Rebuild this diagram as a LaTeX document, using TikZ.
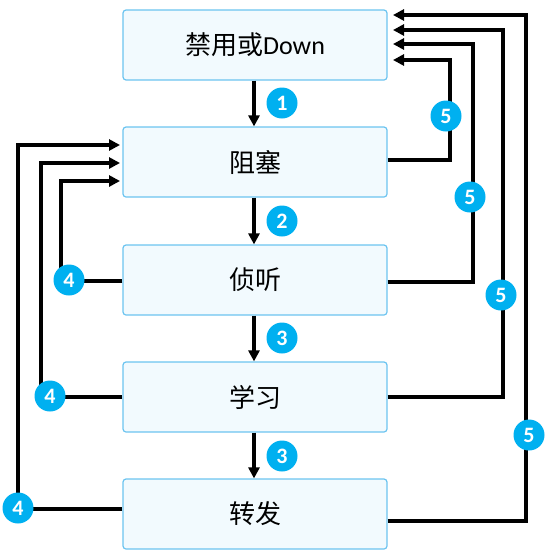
\documentclass[tikz,border=0pt]{standalone}
\usepackage{fontspec}
\setmainfont{Carlito}
\newfontfamily\cjk{Noto Sans CJK SC}
\usetikzlibrary{arrows.meta}
\definecolor{boxfill}{HTML}{F2FAFE}
\definecolor{boxdraw}{HTML}{6CC4F0}
\definecolor{badge}{HTML}{00B0F0}
\tikzset{
  box/.style={draw=boxdraw, fill=boxfill, line width=1.2pt, rounded corners=3pt,
    minimum width=264pt, minimum height=70pt, inner sep=0pt,
    font=\fontsize{26}{28}\selectfont},
  conn/.style={line width=3.6pt, -{Triangle[length=11pt,width=11pt]}},
  badgenode/.style={circle, fill=badge, minimum size=31pt, inner sep=0pt,
    text=white, font=\fontsize{22}{22}\selectfont\bfseries}
}
\begin{document}
\begin{tikzpicture}[x=1pt,y=-1pt]
\useasboundingbox (0,0) rectangle (552,552);
\node[box] (b1) at (255,45) {{\cjk 禁用或}Down};
\node[box] (b2) at (255,162) {\cjk 阻塞};
\node[box] (b3) at (255,280) {\cjk 侦听};
\node[box] (b4) at (255,397) {\cjk 学习};
\node[box] (b5) at (255,514) {\cjk 转发};
% down arrows
\draw[conn] (b1.south -| 254,0) -- (b2.north -| 254,0);
\draw[conn] (b2.south -| 254,0) -- (b3.north -| 254,0);
\draw[conn] (b3.south -| 254,0) -- (b4.north -| 254,0);
\draw[conn] (b4.south -| 254,0) -- (b5.north -| 254,0);
% right side returns
\coordinate (r1) at (393,60);
\coordinate (r2) at (393,44);
\coordinate (r3) at (393,30);
\coordinate (r4) at (393,15);
\draw[conn] (b2.east |- 0,160) -| (450,60) -- (r1);
\draw[conn] (b3.east |- 0,282) -| (473,44) -- (r2);
\draw[conn] (b4.east |- 0,397) -| (503,30) -- (r3);
\draw[conn] (b5.east |- 0,521) -| (526,15) -- (r4);
% left side returns
\coordinate (l1) at (120,181);
\coordinate (l2) at (120,163);
\coordinate (l3) at (120,145);
\draw[conn] (b3.west |- 0,281) -| (61,181) -- (l1);
\draw[conn] (b4.west |- 0,397) -| (41,163) -- (l2);
\draw[conn] (b5.west |- 0,509) -| (18,145) -- (l3);
% badges
\node[badgenode] (n1) at (282,103) {1};
\node[badgenode] (n2) at (282,221) {2};
\node[badgenode] (n3) at (282,338) {3};
\node[badgenode] (n4) at (282,456) {3};
\node[badgenode] (f1) at (69,280) {4};
\node[badgenode] (f2) at (50,396) {4};
\node[badgenode] (f3) at (18,508) {4};
\node[badgenode] (g1) at (446,116) {5};
\node[badgenode] (g2) at (470,197) {5};
\node[badgenode] (g3) at (501,295) {5};
\node[badgenode] (g4) at (529,435) {5};
\end{tikzpicture}
\end{document}
